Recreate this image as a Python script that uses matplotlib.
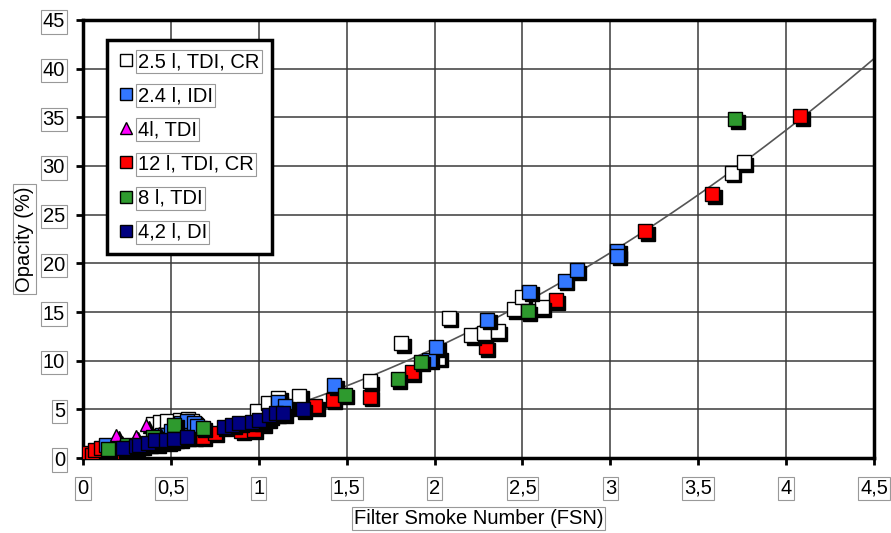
import matplotlib
matplotlib.use("Agg")
import matplotlib.pyplot as plt
import matplotlib.transforms as mtransforms
import numpy as np

plt.rcParams['font.family'] = ['Liberation Sans', 'DejaVu Sans']

# --- data ---
white_x = [0.40, 0.44, 0.48, 0.55, 0.60, 0.62, 0.99, 1.05, 1.11, 1.23, 1.63, 1.81,
           2.02, 2.08, 2.21, 2.28, 2.36, 2.45, 2.50, 2.61, 3.69, 3.76]
white_y = [3.5, 3.7, 3.8, 3.9, 4.0, 3.8, 4.8, 5.6, 6.2, 6.4, 7.9, 11.8,
           10.3, 14.4, 12.6, 12.8, 13.0, 15.3, 16.5, 15.5, 29.3, 30.4]

blue_x = [0.13, 0.45, 0.50, 0.56, 0.59, 0.63, 0.65, 1.11, 1.15, 1.43, 1.97, 2.01,
          2.30, 2.54, 2.74, 2.81, 3.04, 3.04]
blue_y = [1.3, 2.4, 2.8, 3.6, 3.8, 3.6, 3.3, 5.8, 5.3, 7.5, 10.1, 11.4,
          14.2, 17.1, 18.2, 19.3, 21.3, 20.8]

magenta_x = [0.19, 0.30, 0.36, 0.43, 0.22]
magenta_y = [2.4, 2.3, 3.4, 2.6, 1.6]

red_x = [0.0, 0.02, 0.05, 0.07, 0.10, 0.15, 0.20, 0.28, 0.33, 0.42, 0.50, 0.55,
         0.63, 0.68, 0.75, 0.90, 0.97, 1.02, 1.05, 1.32, 1.42, 1.63, 1.87, 2.29,
         2.69, 3.20, 3.58, 4.08]
red_y = [0.2, 0.5, 0.3, 0.8, 1.0, 0.4, 0.5, 1.1, 1.3, 1.5, 1.8, 2.0,
         2.2, 2.2, 2.6, 2.8, 2.9, 3.5, 4.1, 5.3, 6.0, 6.3, 8.8, 11.4,
         16.2, 23.3, 27.1, 35.1]

green_x = [0.14, 0.25, 0.40, 0.48, 0.52, 0.68, 1.49, 1.79, 1.92, 2.53, 3.71]
green_y = [0.9, 1.3, 2.2, 1.7, 3.4, 3.1, 6.5, 8.1, 9.9, 15.1, 34.8]

navy_x = [0.23, 0.30, 0.32, 0.37, 0.41, 0.47, 0.52, 0.59, 0.80, 0.85, 0.89, 0.96,
          1.00, 1.06, 1.10, 1.14, 1.25]
navy_y = [1.0, 1.2, 1.3, 1.5, 1.8, 1.9, 2.0, 2.2, 3.2, 3.4, 3.6, 3.7,
          3.9, 4.4, 4.6, 4.6, 5.0]

labels = ['2.5 l, TDI, CR', '2.4 l, IDI', '4l, TDI', '12 l, TDI, CR', '8 l, TDI', '4,2 l, DI']

x_ticks = [0, 0.5, 1, 1.5, 2, 2.5, 3, 3.5, 4, 4.5]
x_ticklabels = ['0', '0,5', '1', '1,5', '2', '2,5', '3', '3,5', '4', '4,5']
y_ticks = [0, 5, 10, 15, 20, 25, 30, 35, 40, 45]

FS = 14.5

fig = plt.figure(figsize=(8.91, 5.33), dpi=100)
ax = fig.add_axes([0.0932, 0.1407, 0.8877, 0.8218])

# trend line: polynomial fit through the origin over all points
all_x = np.concatenate([white_x, blue_x, magenta_x, red_x, green_x, navy_x])
all_y = np.concatenate([white_y, blue_y, magenta_y, red_y, green_y, navy_y])
A = np.vstack([all_x, all_x ** 2]).T
coef, *_ = np.linalg.lstsq(A, all_y, rcond=None)
xs = np.linspace(0, 4.5, 200)
ax.plot(xs, coef[0] * xs + coef[1] * xs ** 2, color='#555555', lw=1.2, zorder=2)

shadow = mtransforms.offset_copy(ax.transData, fig=fig, x=2.5, y=-2.5, units='dots')

series = [
    (red_x, red_y, 's', '#ff0000', 9.5, labels[3]),
    (white_x, white_y, 's', '#ffffff', 9.5, labels[0]),
    (blue_x, blue_y, 's', '#3377ff', 9.5, labels[1]),
    (magenta_x, magenta_y, '^', '#ff00ff', 9, labels[2]),
    (green_x, green_y, 's', '#2e9a2e', 9.5, labels[4]),
    (navy_x, navy_y, 's', '#000080', 9.5, labels[5]),
]
handles = {}
z = 3
for xv, yv, mk, col, ms, lab in series:
    ax.plot(xv, yv, linestyle='none', marker=mk, ms=ms, mfc='black', mec='black',
            transform=shadow, zorder=z)
    h, = ax.plot(xv, yv, linestyle='none', marker=mk, ms=ms, mfc=col, mec='black',
                 mew=1.0, zorder=z + 0.5, label=lab)
    handles[lab] = h
    z += 1

ax.set_xlim(0, 4.5)
ax.set_ylim(0, 45)
ax.set_xticks(x_ticks)
ax.set_xticklabels(x_ticklabels)
ax.set_yticks(y_ticks)
ax.grid(True, color='#3a3a3a', lw=1.1)
ax.set_axisbelow(True)
for sp in ax.spines.values():
    sp.set_linewidth(2.5)
ax.tick_params(direction='out', length=5, width=2, labelsize=FS)
ax.tick_params(axis='x', pad=10)
ax.tick_params(axis='y', pad=8)

box = dict(facecolor='white', edgecolor='#999999', lw=0.8, pad=1.5)
for t in ax.get_xticklabels() + ax.get_yticklabels():
    t.set_bbox(box)

ax.set_xlabel('Filter Smoke Number (FSN)', fontsize=FS, labelpad=8, bbox=box)
ax.set_ylabel('Opacity (%)', fontsize=FS, labelpad=6, bbox=box)

leg_handles = []
for lab in labels:
    src = handles[lab]
    leg_handles.append(plt.Line2D([], [], linestyle='none', marker=src.get_marker(),
                                  ms=8, mfc=src.get_markerfacecolor(), mec='black', mew=1.0))
leg = ax.legend(leg_handles, labels, loc='upper left', bbox_to_anchor=(0.0303, 0.954),
                fontsize=FS, frameon=True, fancybox=False, edgecolor='black', framealpha=1,
                labelspacing=0.75, handlelength=0.7, handletextpad=0.25,
                borderpad=0.6, borderaxespad=0)
leg.get_frame().set_linewidth(2.5)
for t in leg.get_texts():
    t.set_bbox(box)

fig.savefig('out.png', dpi=100)
